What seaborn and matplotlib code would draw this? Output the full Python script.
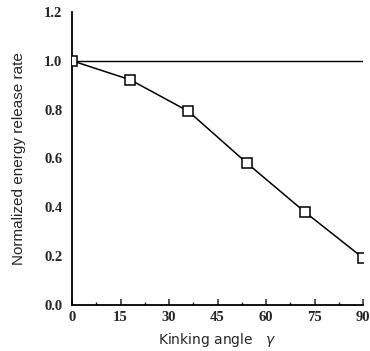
import matplotlib
matplotlib.use("Agg")
import matplotlib.pyplot as plt
from matplotlib.ticker import MultipleLocator
import seaborn as sns
import pandas as pd

# Kinking angle (degrees) and normalized energy release rate
angles = [0, 18, 36, 54, 72, 90]
energy_rate = [1.0, 0.922, 0.793, 0.582, 0.381, 0.193]
x_ticks = [0, 15, 30, 45, 60, 75, 90]
y_ticks = [0.0, 0.2, 0.4, 0.6, 0.8, 1.0, 1.2]

df = pd.DataFrame({"angle": angles, "rate": energy_rate})

sns.set_style("white")
fig = plt.figure(figsize=(3.70, 3.51), dpi=100)
ax = fig.add_axes([0.195, 0.131, 0.786, 0.835])

ax.axhline(1.0, color="black", lw=1.0, zorder=1)
sns.lineplot(data=df, x="angle", y="rate", ax=ax, color="black", lw=1.1,
             marker="s", markersize=7, markerfacecolor="white",
             markeredgecolor="black", markeredgewidth=1.1, zorder=3)

ax.set_xlim(0, 90)
ax.set_ylim(0, 1.2)
ax.set_xticks(x_ticks)
ax.set_yticks(y_ticks)
ax.set_yticklabels([f"{v:.1f}" for v in y_ticks])
ax.xaxis.set_minor_locator(MultipleLocator(7.5))
ax.yaxis.set_minor_locator(MultipleLocator(0.1))

for side in ("top", "right"):
    ax.spines[side].set_visible(False)
for side in ("left", "bottom"):
    ax.spines[side].set_linewidth(1.3)
    ax.spines[side].set_color("black")

ax.tick_params(axis="y", which="major", direction="out", length=5, width=1.1,
               labelsize=10.5, pad=2)
ax.tick_params(axis="y", which="minor", direction="out", length=3, width=1.0)
ax.tick_params(axis="x", which="major", direction="in", length=4, width=1.1,
               labelsize=10.5, pad=4, bottom=True)
ax.tick_params(axis="x", which="minor", direction="in", length=2.5, width=1.0,
               bottom=True)
for lab in ax.get_xticklabels() + ax.get_yticklabels():
    lab.set_family("Liberation Serif")
    lab.set_fontweight("bold")

ax.set_xlabel("Kinking angle   $\\gamma$", fontsize=10, family="DejaVu Sans",
              labelpad=5)
ax.set_ylabel("Normalized energy release rate", fontsize=11,
              family="Liberation Sans", labelpad=13)

fig.savefig("out.png", dpi=100)
